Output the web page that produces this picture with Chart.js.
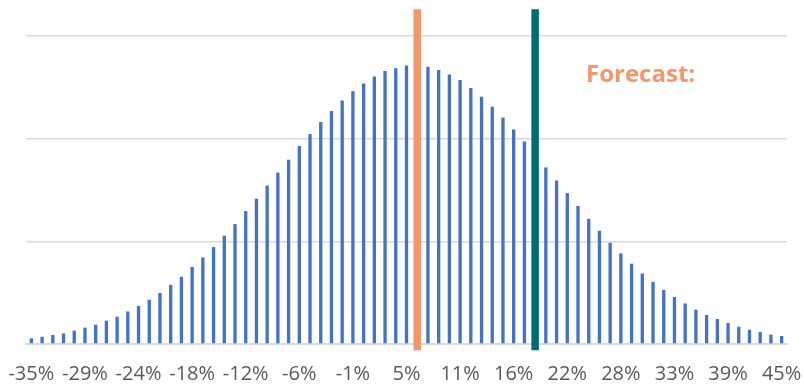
<!DOCTYPE html>
<html>
<head>
<meta charset="utf-8">
<script src="https://cdn.jsdelivr.net/npm/chart.js@4/dist/chart.umd.min.js"></script>
<style>
  html, body { margin: 0; padding: 0; background: #ffffff; }
  #wrap { position: relative; width: 804px; height: 387px; }
  #note {
    position: absolute; left: 586px; top: 61px;
    font: bold 24px 'Open Sans', sans-serif; line-height: 24px;
    color: #F4956A; white-space: nowrap;
  }
</style>
</head>
<body>
<div id="wrap">
  <canvas id="c" width="804" height="387"></canvas>
  <div id="note">Forecast:</div>
</div>
<script>
// Return buckets: one label every fifth bucket
const tickLabels = ['-35%', '-29%', '-24%', '-18%', '-12%', '-6%', '-1%', '5%',
                    '11%', '16%', '22%', '28%', '33%', '39%', '45%'];

// Frequency of each return bucket (71 buckets)
const distribution = [
  0.055, 0.071, 0.088, 0.103, 0.130, 0.159, 0.188, 0.227, 0.266, 0.317,
  0.370, 0.431, 0.497, 0.577, 0.655, 0.750, 0.843, 0.944, 1.055, 1.168,
  1.295, 1.415, 1.543, 1.670, 1.795, 1.928, 2.045, 2.162, 2.269, 2.372,
  2.463, 2.537, 2.606, 2.658, 2.687, 2.713, 2.720, 2.700, 2.668, 2.625,
  2.571, 2.493, 2.408, 2.311, 2.206, 2.090, 1.973, 1.845, 1.720, 1.593,
  1.470, 1.344, 1.220, 1.103, 0.986, 0.882, 0.782, 0.687, 0.604, 0.526,
  0.458, 0.395, 0.334, 0.282, 0.243, 0.204, 0.168, 0.139, 0.117, 0.091,
  0.078
];

// Marker bars: bucket index and vertical extent
const forecastIndex = 36;
const forecastRange = [-0.06, 3.26];
const targetIndex = 47;
const targetRange = [-0.06, 3.26];

const categories = distribution.map((_, i) => (i % 5 === 0 ? tickLabels[i / 5] : ''));

function markerData(index, range) {
  return distribution.map((_, i) => (i === index ? range : null));
}

new Chart(document.getElementById('c'), {
  type: 'bar',
  data: {
    labels: categories,
    datasets: [
      {
        data: markerData(forecastIndex, forecastRange),
        backgroundColor: '#F4956A',
        barPercentage: 0.7, categoryPercentage: 1,
        grouped: false, order: 0, clip: false
      },
      {
        data: markerData(targetIndex, targetRange),
        backgroundColor: '#006B74',
        barPercentage: 0.7, categoryPercentage: 1,
        grouped: false, order: 0, clip: false
      },
      {
        data: distribution,
        backgroundColor: '#4472C4',
        barPercentage: 0.31, categoryPercentage: 1,
        grouped: false, order: 1
      }
    ]
  },
  options: {
    responsive: false,
    animation: false,
    devicePixelRatio: 1,
    layout: { padding: { top: 36, left: 0, right: 0, bottom: 0 } },
    plugins: { legend: { display: false }, tooltip: { enabled: false } },
    scales: {
      x: {
        type: 'category',
        grid: { display: false },
        border: { display: true, color: '#D9D9D9', width: 2 },
        ticks: {
          autoSkip: false, maxRotation: 0, minRotation: 0,
          color: '#595959', padding: 10,
          font: { family: "'Open Sans', sans-serif", size: 20 }
        },
        afterFit: s => { s.height = 43; s.paddingLeft = 0; s.paddingRight = 0; }
      },
      y: {
        min: 0, max: 3,
        ticks: { display: false, stepSize: 1 },
        border: { display: false },
        grid: { color: '#D9D9D9', lineWidth: 1.5, drawTicks: false },
        afterFit: s => { s.width = 26; }
      },
      yRight: {
        position: 'right',
        min: 0, max: 3,
        ticks: { display: false },
        border: { display: false },
        grid: { display: false, drawTicks: false },
        afterFit: s => { s.width = 17; }
      }
    }
  }
});
</script>
</body>
</html>
